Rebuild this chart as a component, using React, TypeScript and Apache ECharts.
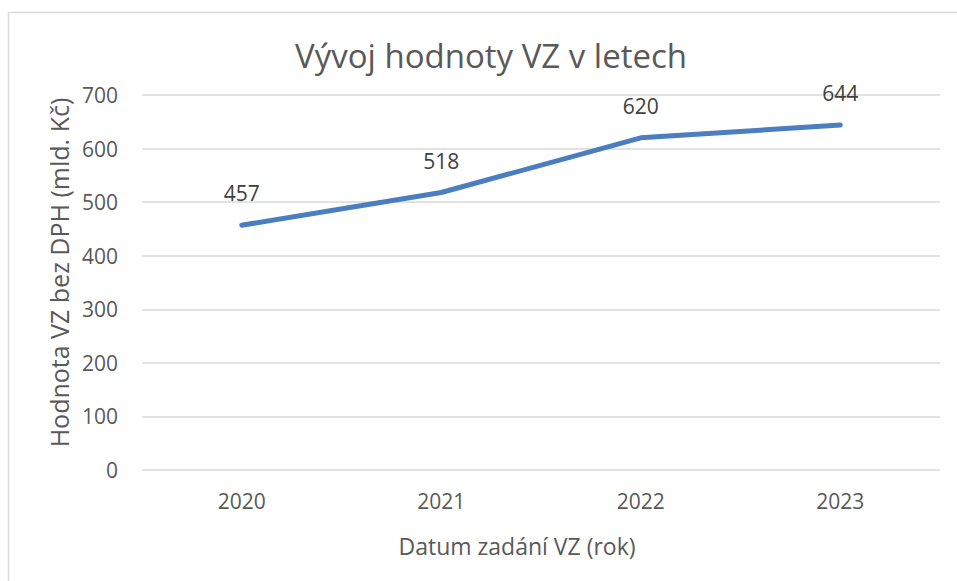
import React, { useEffect, useRef } from "react";
import * as echarts from "echarts";

const years = ["2020", "2021", "2022", "2023"];
const values = [457, 518, 620, 644];
const yTicks = [0, 100, 200, 300, 400, 500, 600, 700];

const FONT = "'Open Sans', 'Noto Sans', sans-serif";

export default function App() {
  const ref = useRef<HTMLDivElement>(null);
  useEffect(() => {
    if (!ref.current) return;
    const chart = echarts.init(ref.current, null, { renderer: "svg" });
    chart.setOption({
      animation: false,
      backgroundColor: "#ffffff",
      title: {
        text: "Vývoj hodnoty VZ v letech",
        left: 486,
        top: 34,
        textAlign: "center",
        textStyle: { fontFamily: FONT, fontSize: 33, fontWeight: "normal", color: "#595959" },
      },
      graphic: [
        {
          type: "rect",
          shape: { x: 8.5, y: 12.5, width: 960, height: 580 },
          style: { fill: "none", stroke: "#d9d9d9", lineWidth: 1.5 },
          silent: true,
        },
      ],
      grid: { left: 142, right: 17, top: 95, bottom: 111 },
      xAxis: {
        type: "category",
        data: years,
        boundaryGap: true,
        axisLine: { show: false },
        axisTick: { show: false },
        axisLabel: { fontFamily: FONT, fontSize: 21, color: "#595959", margin: 20 },
        name: "Datum zadání VZ (rok)",
        nameLocation: "middle",
        nameGap: 64,
        nameTextStyle: {
          fontFamily: FONT,
          fontSize: 23,
          color: "#595959",
          padding: [0, 48, 0, 0],
        },
      },
      yAxis: {
        type: "value",
        min: yTicks[0],
        max: yTicks[yTicks.length - 1],
        interval: 100,
        axisLine: { show: false },
        axisTick: { show: false },
        splitLine: { lineStyle: { color: "#d9d9d9", width: 1.5 } },
        axisLabel: { fontFamily: FONT, fontSize: 21, color: "#595959", margin: 24 },
        name: "Hodnota VZ bez DPH (mld. Kč)",
        nameLocation: "middle",
        nameGap: 29,
        nameRotate: 90,
        nameTextStyle: {
          fontFamily: FONT,
          fontSize: 25,
          color: "#595959",
          padding: [0, 0, 0, 20],
        },
      },
      series: [
        {
          type: "line",
          data: values,
          symbol: "circle",
          symbolSize: 1,
          showSymbol: true,
          itemStyle: { color: "#4a7ebf" },
          lineStyle: { color: "#4a7ebf", width: 5, cap: "round", join: "round" },
          label: {
            show: true,
            position: "top",
            distance: 21,
            fontFamily: FONT,
            fontSize: 21,
            color: "#404040",
          },
        },
      ],
    });
    return () => chart.dispose();
  }, []);
  return (
    <div
      ref={ref}
      style={{ position: "fixed", left: 0, top: 0, width: 957, height: 581 }}
    />
  );
}
